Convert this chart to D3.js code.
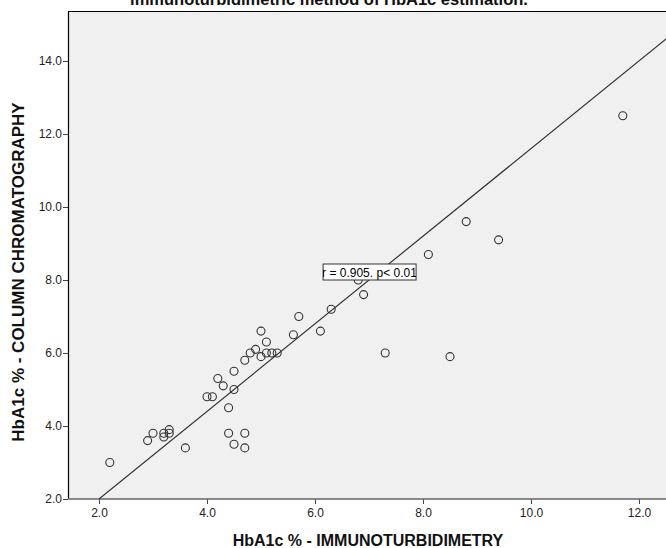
<!DOCTYPE html>
<html><head><meta charset="utf-8">
<script src="https://cdn.jsdelivr.net/npm/d3@7"></script>
<style>body{margin:0;background:#fff}svg{display:block}text{font-family:Arial,"Liberation Sans",sans-serif}</style>
</head><body><svg id="c" width="666" height="548"></svg>
<script>
const immunoturbidimetry = [2.2,2.9,3.0,3.2,3.2,3.3,3.3,3.6,4.0,4.1,4.2,4.3,4.4,4.5,4.5,4.4,4.5,4.7,4.7,4.7,4.8,4.9,5.0,5.0,5.1,5.1,5.2,5.3,5.6,5.7,6.1,6.3,6.8,6.9,7.3,8.1,8.5,8.8,9.4,11.7];
const columnChromatography = [3.0,3.6,3.8,3.7,3.8,3.9,3.8,3.4,4.8,4.8,5.3,5.1,4.5,5.0,5.5,3.8,3.5,3.8,3.4,5.8,6.0,6.1,6.6,5.9,6.3,6.0,6.0,6.0,6.5,7.0,6.6,7.2,8.0,7.6,6.0,8.7,5.9,9.6,9.1,12.5];
const xTicks = [2,4,6,8,10,12];
const yTicks = [2,4,6,8,10,12,14];
const fitIntercept = -0.4, fitSlope = 1.2;
const titleText = "immunoturbidimetric method of HbA1c estimation.";
const xTitle = "HbA1c % - IMMUNOTURBIDIMETRY";
const yTitle = "HbA1c % - COLUMN CHROMATOGRAPHY";
const annotation = "r = 0.905. p< 0.01";

const svg = d3.select("#c");
const x = d3.scaleLinear().domain([2,12]).range([99,639]);
const y = d3.scaleLinear().domain([2,14]).range([499,61]);
const L=68, T=11, R=680, B=499;

svg.append("defs").append("clipPath").attr("id","pc").append("rect").attr("x",L).attr("y",T).attr("width",R-L).attr("height",B-T);

svg.append("text").attr("x",329).attr("y",5).attr("text-anchor","middle").attr("font-size",16.5).attr("font-weight","bold").attr("fill","#111").text(titleText);

svg.append("rect").attr("x",L).attr("y",T).attr("width",R-L).attr("height",B-T).attr("fill","#f0f0f0");
svg.append("line").attr("x1",L).attr("x2",R).attr("y1",T+0.5).attr("y2",T+0.5).attr("stroke","#000").attr("stroke-width",1.2);
svg.append("line").attr("x1",L+0.5).attr("x2",L+0.5).attr("y1",T).attr("y2",B).attr("stroke","#000").attr("stroke-width",1.2);

const gx = svg.append("g").attr("transform",`translate(0,${B})`).call(d3.axisBottom(x).tickValues(xTicks).tickFormat(d3.format(".1f")).tickSize(5).tickSizeOuter(0));
gx.select(".domain").remove();
gx.append("line").attr("x1",L).attr("x2",R).attr("stroke","#666").attr("stroke-width",1.5);
gx.selectAll(".tick line").attr("stroke","#444");
gx.selectAll(".tick text").attr("font-size",12).attr("fill","#222").attr("dy","0.9em").attr("y",7);

const gy = svg.append("g").attr("transform",`translate(${L},0)`).call(d3.axisLeft(y).tickValues(yTicks).tickFormat(d3.format(".1f")).tickSize(5).tickSizeOuter(0));
gy.select(".domain").remove();
gy.selectAll(".tick line").attr("stroke","#444");
gy.selectAll(".tick text").attr("font-size",12).attr("fill","#222").attr("x",-6);

const plot = svg.append("g").attr("clip-path","url(#pc)");
const xd = x.invert(R);
const x0 = (2 - fitIntercept)/fitSlope;
plot.append("line").attr("x1",x(x0)).attr("y1",y(fitIntercept+fitSlope*x0)).attr("x2",x(xd)).attr("y2",y(fitIntercept+fitSlope*xd)).attr("stroke","#333").attr("stroke-width",1.2);

plot.selectAll("circle").data(immunoturbidimetry.map((v,i)=>[v,columnChromatography[i]])).enter().append("circle")
 .attr("cx",d=>x(d[0])).attr("cy",d=>y(d[1])).attr("r",4).attr("fill","none").attr("stroke","#333").attr("stroke-width",1.1);

const ax = x(6.15), ay = y(8.0);
svg.append("defs").append("clipPath").attr("id","ac").append("rect").attr("x",ax).attr("y",ay-16).attr("width",93).attr("height",16);
svg.append("rect").attr("x",ax).attr("y",ay-16).attr("width",93).attr("height",16).attr("fill","#fff").attr("stroke","#333").attr("stroke-width",1);
svg.append("text").attr("clip-path","url(#ac)").attr("x",ax-1).attr("y",ay-3.5).attr("font-size",12).attr("fill","#000").text(annotation);

svg.append("text").attr("x",368).attr("y",546).attr("text-anchor","middle").attr("font-size",16).attr("font-weight","bold").attr("fill","#111").text(xTitle);
svg.append("text").attr("transform","translate(24,272) rotate(-90)").attr("text-anchor","middle").attr("font-size",17).attr("font-weight","bold").attr("fill","#111").text(yTitle);
</script></body></html>
